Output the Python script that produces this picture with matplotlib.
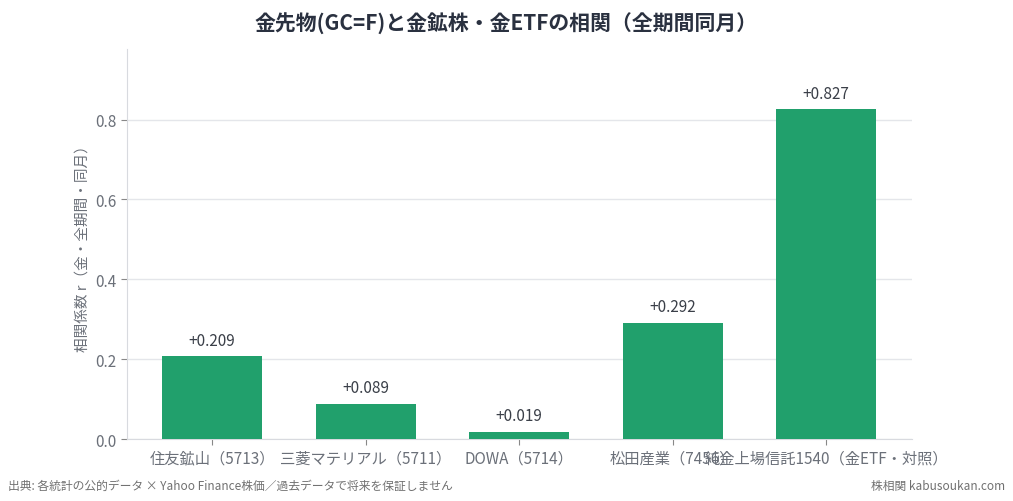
import numpy as np
import matplotlib
matplotlib.use("Agg")
import matplotlib.pyplot as plt

plt.rcParams['font.family'] = ['Noto Sans CJK JP', 'DejaVu Sans']

# データ
labels = ["住友鉱山（5713）", "三菱マテリアル（5711）", "DOWA（5714）",
          "松田産業（7456）", "純金上場信託1540（金ETF・対照）"]
corr = [0.209, 0.089, 0.019, 0.292, 0.827]

bar_color = "#21a06c"
text_color = "#6b7079"

fig = plt.figure(figsize=(10.13, 5.02), dpi=100)
ax = fig.add_axes([0.125, 0.123, 0.775, 0.777])

x = np.arange(len(labels))
ax.bar(x, corr, width=0.65, color=bar_color, zorder=3)

for xi, v in zip(x, corr):
    ax.text(xi, v + 0.018, f"+{v:.3f}", ha="center", va="bottom",
            fontsize=11, color="#3a3f48")

ax.set_ylim(0, 0.976)
ax.set_xticks(x)
ax.set_xticklabels(labels, fontsize=11, color=text_color)
ax.set_yticks([0.0, 0.2, 0.4, 0.6, 0.8])
ax.set_yticklabels(["0.0", "0.2", "0.4", "0.6", "0.8"], fontsize=11, color=text_color)
ax.set_ylabel("相関係数 r（金・全期間・同月）", fontsize=10.5, color=text_color)

ax.grid(axis="y", color="#e4e6ea", linewidth=1, zorder=0)
for s in ["top", "right"]:
    ax.spines[s].set_visible(False)
for s in ["left", "bottom"]:
    ax.spines[s].set_color("#d8dadf")
ax.tick_params(axis="both", colors="#888888", labelcolor=text_color, length=4)

fig.suptitle("金先物(GC=F)と金鉱株・金ETFの相関（全期間同月）", fontsize=15,
             fontweight="bold", color="#2a3140", y=0.975)

fig.text(0.008, 0.025, "出典: 各統計の公的データ × Yahoo Finance株価／過去データで将来を保証しません",
         fontsize=8.5, color="#707070")
fig.text(0.992, 0.025, "株相関 kabusoukan.com", fontsize=8.5, color="#707070", ha="right")

fig.savefig("out.png", dpi=100)
